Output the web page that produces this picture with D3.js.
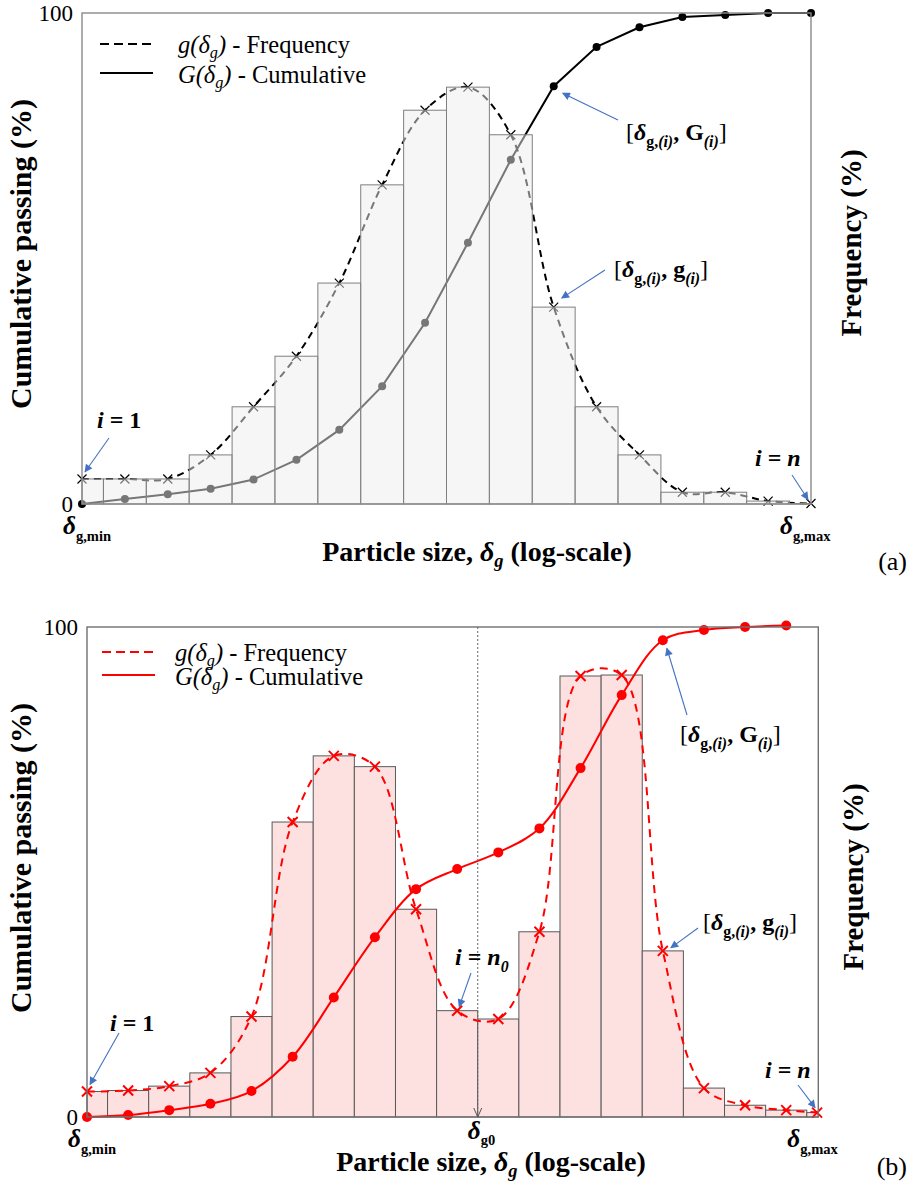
<!DOCTYPE html>
<html><head><meta charset="utf-8">
<script src="https://cdn.jsdelivr.net/npm/d3@7"></script>
<style>
body{margin:0;background:#fff}
svg{display:block}
text{font-family:"Liberation Serif","Times New Roman",serif}
</style>
</head><body>
<svg id="chart" width="909" height="1188"></svg>
<script>
// ---------------- DATA ----------------
// Panel (a): positions along the log-size axis (bin index units)
const topPos  = [0,1,2,3,4,5,6,7,8,9,10,11,12,13,14,15,16,17];
const topFreq = [5.1,5.1,5.1,10,19.8,30.1,45,65,80.2,84.9,75.2,40.1,19.8,10,2.4,2.4,0.6,0.1];
const topCum  = [0,1.0,2.0,3.1,5.0,9.0,15.1,24,36.9,53.2,70.1,85.1,93.1,97.1,99.2,99.6,100,100];
// Panel (b)
const botPos  = [0,1,2,3,4,5,6,7,8,9,10,11,12,13,14,15,16,17,17.75];
const botFreq = [5.2,5.4,6.3,9.0,20.5,60.2,73.7,71.5,42.4,21.7,20.0,37.8,90.0,90.2,33.9,5.9,2.4,1.4,0.9];
const botCum  = [0,0.4,1.4,2.7,5.3,12.3,24.4,36.7,46.5,50.6,54.0,58.9,71.2,86.1,97.3,99.4,100,100.3];
const botG0   = 9.5;           // δg0 position
const yTickValues = [0,100];

// ---------------- HELPERS ----------------
const svg = d3.select('#chart');
const BLUE = '#4472c4';
const defs = svg.append('defs');
defs.append('marker').attr('id','ah').attr('viewBox','0 0 10 10')
  .attr('refX',9).attr('refY',5).attr('markerWidth',9).attr('markerHeight',8)
  .attr('markerUnits','userSpaceOnUse').attr('orient','auto')
  .append('path').attr('d','M0,0 L10,5 L0,10 z').attr('fill',BLUE);

function rich(parent, x, y, parts, o){
  const t = parent.append('text').attr('x',x).attr('y',y)
    .attr('font-size',o.size).attr('text-anchor',o.anchor||'start')
    .attr('font-weight',o.weight||'normal').attr('fill','#000');
  if (o.rotate) t.attr('transform',`rotate(${o.rotate},${x},${y})`);
  let cur = 0;
  const subShift = o.subShift || 0.3;
  parts.forEach(([txt,f=''])=>{
    const ts = t.append('tspan').text(txt);
    const sub = f.includes('s') ? o.size*subShift : 0;
    if (sub !== cur){ ts.attr('dy', sub-cur); cur = sub; }
    if (f.includes('s')) ts.attr('font-size', o.size*0.66);
    if (f.includes('L')) ts.attr('font-size', o.size*1.15);
    if (f.includes('i')) ts.attr('font-style','italic');
    if (f.includes('b')) ts.attr('font-weight','bold');
    if (f.includes('n')) ts.attr('font-weight','normal');
  });
  return t;
}
function arrow(g, x1,y1,x2,y2){
  g.append('line').attr('x1',x1).attr('y1',y1).attr('x2',x2).attr('y2',y2)
    .attr('stroke',BLUE).attr('stroke-width',1.1).attr('marker-end','url(#ah)');
}
function barsFrom(pos, vals, dom){
  const out=[]; let prevR = dom[0];
  pos.forEach((p,i)=>{
    const l = Math.max(prevR, p-0.5, dom[0]);
    const r = Math.min(p+0.5, dom[1]);
    out.push({l, r, v: vals[i]}); prevR = r;
  });
  return out;
}

function panel(c){
  const g = svg.append('g');
  const x = d3.scaleLinear().domain(c.xDom).range([c.left, c.right]);
  const y = d3.scaleLinear().domain([0,100]).range([c.bottom, c.top]);
  const bars = barsFrom(c.pos, c.freq, c.xDom);
  const freqPts = c.pos.map((p,i)=>[p, c.freq[i]]);
  const cumPts  = c.cum.map((v,i)=>[c.pos[i], v]);

  const drawBars = ()=> g.append('g').selectAll('rect').data(bars).join('rect')
    .attr('x',d=>x(d.l)).attr('width',d=>x(d.r)-x(d.l))
    .attr('y',d=>y(d.v)).attr('height',d=>y(0)-y(d.v))
    .attr('fill',c.barFill).attr('fill-opacity',c.barOpacity)
    .attr('stroke',c.barStroke).attr('stroke-width',1);

  const drawLines = ()=>{
    const lg = g.append('g');
    lg.append('path').attr('d', d3.line().x(d=>x(d[0])).y(d=>y(d[1])).curve(c.gCurve)(freqPts))
      .attr('fill','none').attr('stroke',c.color).attr('stroke-width',c.lw).attr('stroke-dasharray',c.dash);
    lg.append('path').attr('d', d3.line().x(d=>x(d[0])).y(d=>y(d[1])).curve(c.GCurve)(cumPts))
      .attr('fill','none').attr('stroke',c.color).attr('stroke-width',c.lw);
    const s = c.cs;
    lg.selectAll('path.cross').data(freqPts).join('path').attr('class','cross')
      .attr('d',d=>`M${x(d[0])-s},${y(d[1])-s}L${x(d[0])+s},${y(d[1])+s}M${x(d[0])-s},${y(d[1])+s}L${x(d[0])+s},${y(d[1])-s}`)
      .attr('stroke',c.color).attr('stroke-width',c.cw).attr('fill','none');
    lg.selectAll('circle').data(cumPts).join('circle')
      .attr('cx',d=>x(d[0])).attr('cy',d=>y(d[1])).attr('r',c.r).attr('fill',c.color);
  };
  if (c.linesUnder){ drawLines(); drawBars(); } else { drawBars(); drawLines(); }

  // frame
  g.append('rect').attr('x',c.left).attr('y',c.top).attr('width',c.right-c.left).attr('height',c.bottom-c.top)
    .attr('fill','none').attr('stroke',c.frame).attr('stroke-width',1.4);

  // left axis (0 / 100)
  const ax = g.append('g').attr('transform',`translate(${c.left},0)`)
    .call(d3.axisLeft(y).tickValues(yTickValues).tickSize(0).tickPadding(9).tickFormat(d3.format('d')));
  ax.select('.domain').remove();
  ax.selectAll('text').attr('font-size',23).attr('font-family','"Liberation Serif",serif').attr('fill','#000');

  // legend
  const L = c.legend;
  g.append('line').attr('x1',L.x).attr('x2',L.x+53).attr('y1',L.y1).attr('y2',L.y1)
    .attr('stroke',c.color).attr('stroke-width',2).attr('stroke-dasharray','9,5');
  g.append('line').attr('x1',L.x).attr('x2',L.x+53).attr('y1',L.y2).attr('y2',L.y2)
    .attr('stroke',c.color).attr('stroke-width',2);
  rich(g, L.tx, L.y1+9, [['g(δ','i'],['g','si'],[')','i'],[' - Frequency']], {size:24.5, subShift:0.22});
  rich(g, L.tx, L.y2+10, [['G(δ','i'],['g','si'],[')','i'],[' - Cumulative']], {size:24.5, subShift:0.22});

  // axis titles
  rich(g, c.ylx, c.yly, [['Cumulative passing (%)']], {size:30, weight:'bold', anchor:'middle', rotate:-90});
  rich(g, c.yrx, c.yry, [['Frequency (%)']], {size:29, weight:'bold', anchor:'middle', rotate:-90});
  rich(g, c.xlx, c.xly, [['Particle size, '],['δ','i'],['g','si'],[' (log-scale)']], {size:28, weight:'bold', anchor:'middle', subShift:0.22});
  rich(g, x(c.xDom[0])-19, c.dy, [['δ','iL'],['g,min','sb']], {size:22, weight:'bold'});
  rich(g, x(c.xDom[1])-31, c.dy, [['δ','iL'],['g,max','sb']], {size:22, weight:'bold'});
  rich(g, 907, c.tagY, [['('+c.tag+')']], {size:26, anchor:'end'});
  return {g, x, y};
}

// ---------------- PANEL (a) ----------------
const A = panel({
  left:82, right:811, top:13, bottom:504, xDom:[0,17],
  pos:topPos, freq:topFreq, cum:topCum,
  color:'#000', lw:2, dash:'7,5', cs:4.5, cw:1.2, r:4,
  gCurve:d3.curveCatmullRom, GCurve:d3.curveLinear,
  barFill:'#eeeeee', barOpacity:0.5, barStroke:'#7f7f7f', linesUnder:true, frame:'#8a8a8a',
  legend:{x:100, tx:178, y1:44, y2:73},
  ylx:31, yly:254, yrx:861, yry:243, xlx:477, xly:561, dy:534, tag:'a', tagY:570
});
{
  const {g,x,y} = A;
  rich(g, 97, 428, [['i','i'],[' = 1']], {size:24, weight:'bold'});
  arrow(g, 109, 438, x(topPos[0])+3, y(topFreq[0])-7);
  rich(g, 755, 466, [['i','i'],[' = '],['n','i']], {size:24, weight:'bold'});
  arrow(g, 792, 475, x(topPos[17])-3, y(topFreq[17])-4);
  rich(g, 626, 140, [['[','n'],['δ','i'],['g,','sb'],['(i)','si'],[', G'],['(i)','si'],[']','n']], {size:24, weight:'bold'});
  arrow(g, 618, 120, x(topPos[11])+9, y(topCum[11])+7);
  rich(g, 614, 277, [['[','n'],['δ','i'],['g,','sb'],['(i)','si'],[', g'],['(i)','si'],[']','n']], {size:24, weight:'bold'});
  arrow(g, 605, 270, x(topPos[11])+8, y(topFreq[11])-9);
}

// ---------------- PANEL (b) ----------------
const B = panel({
  left:87, right:818.3, top:627, bottom:1117, xDom:[0,17.78],
  pos:botPos, freq:botFreq, cum:botCum,
  color:'#ff0000', lw:2, dash:'8,6', cs:5, cw:2, r:5,
  gCurve:d3.curveCatmullRom, GCurve:d3.curveCatmullRom,
  barFill:'#fde1e1', barOpacity:1, barStroke:'#595959', linesUnder:false, frame:'#707070',
  legend:{x:102, tx:175, y1:652, y2:675},
  ylx:31, yly:858, yrx:863, yry:877, xlx:491, xly:1171, dy:1147, tag:'b', tagY:1175
});
{
  const {g,x,y} = B;
  // δg0 dotted line
  const gx = x(botG0);
  g.append('line').attr('x1',gx).attr('x2',gx).attr('y1',y(100)).attr('y2',y(0))
    .attr('stroke','#666').attr('stroke-width',1).attr('stroke-dasharray','2,2');
  g.append('path').attr('d',`M${gx-4},${y(0)-9}L${gx},${y(0)}L${gx+4},${y(0)-9}`)
    .attr('fill','none').attr('stroke','#555').attr('stroke-width',1);
  rich(g, gx-10, 1139, [['δ','iL'],['g0','sb']], {size:22, weight:'bold', subShift:0.25});

  rich(g, 110, 1031, [['i','i'],[' = 1']], {size:24, weight:'bold'});
  arrow(g, 119, 1033, x(botPos[0])+3, y(botFreq[0])-7);
  rich(g, 455, 965, [['i','i'],[' = '],['n','i'],['0','si']], {size:24, weight:'bold'});
  arrow(g, 471, 973, x(botPos[9])+2, y(botFreq[9])-4);
  rich(g, 765, 1078, [['i','i'],[' = '],['n','i']], {size:24, weight:'bold'});
  arrow(g, 798, 1085, x(botPos[18])-2, y(botFreq[18])-5);
  rich(g, 680, 742, [['[','n'],['δ','i'],['g,','sb'],['(i)','si'],[', G'],['(i)','si'],[']','n']], {size:24, weight:'bold'});
  arrow(g, 687, 715, x(botPos[14])+4, y(botCum[14])+8);
  rich(g, 703, 930, [['[','n'],['δ','i'],['g,','sb'],['(i)','si'],[', g'],['(i)','si'],[']','n']], {size:24, weight:'bold'});
  arrow(g, 698, 928, x(botPos[14])+8, y(botFreq[14])-3);
}
</script>
</body></html>
